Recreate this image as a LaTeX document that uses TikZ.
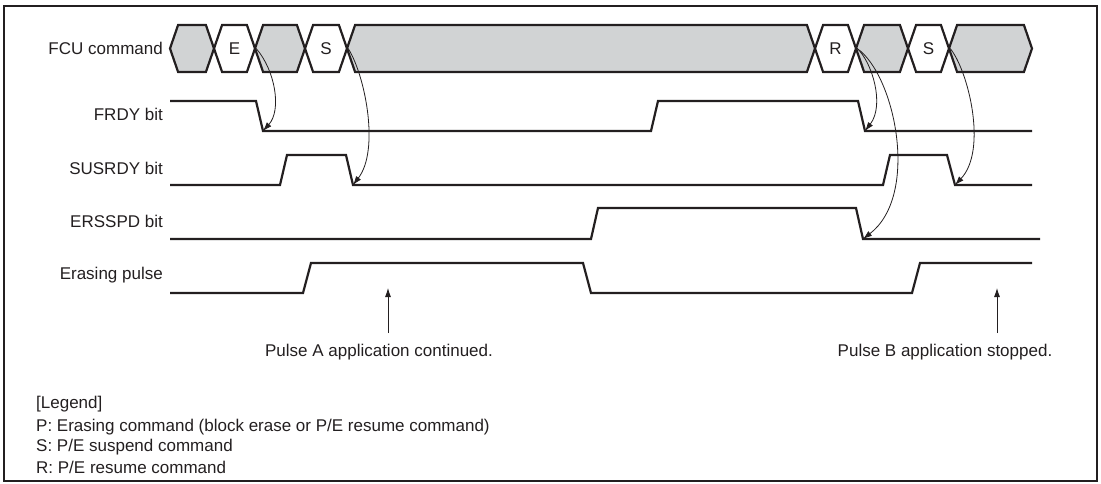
\documentclass[tikz,border=0pt]{standalone}
\usepackage{fontspec}
\setmainfont{Liberation Sans}
\usetikzlibrary{shapes.symbols, arrows.meta, positioning}
\definecolor{fcu-gray}{RGB}{209,211,212}
\definecolor{fcu-ink}{RGB}{35,31,32}

\begin{document}
\begin{tikzpicture}[x=1pt, y=-1pt,
  cmd/.style={signal, signal to=east and west, signal pointer angle=142, draw=fcu-ink, line width=2.2pt, fill=fcu-gray, minimum height=47pt, inner sep=0pt, font=\fontsize{17}{20}\selectfont, text=fcu-ink},
  wave/.style={draw=fcu-ink, line width=2.2pt},
  cue/.style={draw=fcu-ink, line width=0.8pt, -{Latex[length=9pt,width=6pt]}},
  lbl/.style={font=\fontsize{17}{20}\selectfont, text=fcu-ink, inner sep=0pt},
]
  \useasboundingbox (0,0) rectangle (1101,484);
  % Outer frame
  \draw[fcu-ink, line width=1.5pt] (4,6) rectangle (1097,481);

  % Signal names
  \node[lbl, anchor=east] (l-fcu) at (163,48.5) {FCU command};
  \node[lbl, anchor=east] (l-frdy) at (163,114.5) {FRDY bit};
  \node[lbl, anchor=east] (l-sus) at (163,168) {SUSRDY bit};
  \node[lbl, anchor=east] (l-ers) at (163,221) {ERSSPD bit};
  \node[lbl, anchor=east] (l-pulse) at (163,275) {Erasing pulse};

  % FCU command sequence
  \node[cmd, minimum width=44pt] (c1) at (192,48.5) {};
  \node[cmd, minimum width=41pt, fill=white] (c2) at (234.5,48.5) {E};
  \node[cmd, minimum width=50pt] (c3) at (280,48.5) {};
  \node[cmd, minimum width=42pt, fill=white] (c4) at (326,48.5) {S};
  \node[cmd, minimum width=468pt] (c5) at (581,48.5) {};
  \node[cmd, minimum width=41pt, fill=white] (c6) at (835.5,48.5) {R};
  \node[cmd, minimum width=52pt] (c7) at (882,48.5) {};
  \node[cmd, minimum width=41pt, fill=white] (c8) at (928.5,48.5) {S};
  \node[cmd, minimum width=83pt] (c9) at (990.5,48.5) {};

  % FRDY bit
  \draw[wave] (170,101) -- (256,101) -- (263,131) coordinate (frdy-a) -- (651,131) -- (658,101)
    -- (858,101) -- (865,131) coordinate (frdy-b) -- (1032,131);
  % SUSRDY bit
  \draw[wave] (170,185) -- (280,185) -- (287,155) -- (346,155) -- (353,185) coordinate (sus-a)
    -- (883,185) -- (890,155) -- (947,155) -- (955,185) coordinate (sus-b) -- (1032,185);
  % ERSSPD bit
  \draw[wave] (170,239) -- (591,239) -- (598,208) -- (856,208) -- (863,239) coordinate (ers-a) -- (1040,239);
  % Erasing pulse
  \draw[wave] (170,293) -- (303,293) -- (311,263) -- (583,263) -- (591,293) -- (912,293)
    -- (920,263) -- (1032,263);

  % Command to flag arrows
  \draw[cue] (c2.east) .. controls (275,70) and (282,110) .. (frdy-a);
  \draw[cue] (c4.east) .. controls (365,75) and (380,150) .. (sus-a);
  \draw[cue] (c6.east) .. controls (872,62) and (885,105) .. (frdy-b);
  \draw[cue] (c6.east) .. controls (895,75) and (920,195) .. (ers-a);
  \draw[cue] (c8.east) .. controls (968,70) and (988,150) .. (sus-b);

  % Pulse notes
  \coordinate (pa-foot) at (388,333);
  \coordinate (pa-tip) at (388,288);
  \coordinate (pb-foot) at (997,333);
  \coordinate (pb-tip) at (997,288);
  \draw[cue] (pa-foot) -- (pa-tip);
  \draw[cue] (pb-foot) -- (pb-tip);
  \node[lbl] (note-a) at (379,352) {Pulse A application continued.};
  \node[lbl] (note-b) at (945,352) {Pulse B application stopped.};

  % Legend
  \node[lbl, anchor=west] (leg) at (36,404) {[Legend]};
  \node[lbl, anchor=west] (leg-p) at (36,427) {P: Erasing command (block erase or P/E resume command)};
  \node[lbl, anchor=west] (leg-s) at (36,447) {S: P/E suspend command};
  \node[lbl, anchor=west] (leg-r) at (36,467) {R: P/E resume command};
\end{tikzpicture}
\end{document}
